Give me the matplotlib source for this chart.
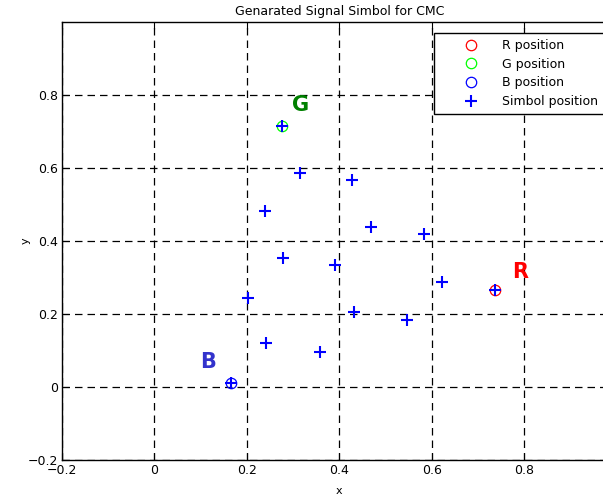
import numpy as np
from matplotlib import pyplot as plt

# reference colour positions
ref_names = ['R', 'G', 'B']
ref_x = [0.737, 0.275, 0.166]
ref_y = [0.265, 0.716, 0.010]

# generated symbol positions
sym_x = [0.737, 0.275, 0.166, 0.314, 0.427, 0.239, 0.468, 0.582, 0.277,
         0.391, 0.203, 0.432, 0.546, 0.241, 0.358, 0.622]
sym_y = [0.265, 0.716, 0.010, 0.587, 0.567, 0.483, 0.438, 0.418, 0.354,
         0.333, 0.244, 0.205, 0.183, 0.120, 0.095, 0.289]

ticks = [-0.2, 0, 0.2, 0.4, 0.6, 0.8]
tick_labels = ['\u22120.2', '0', '0.2', '0.4', '0.6', '0.8']

circle_colors = ['#ff0000', '#00ff00', '#0000ff']
text_colors = ['#ff0000', '#008000', '#3333cc']
text_pos = [(0.791, 0.316), (0.316, 0.772), (0.117, 0.069)]

plt.rcParams['font.family'] = ['DejaVu Sans']

fig = plt.figure(figsize=(6.03, 4.97), dpi=100)
ax = fig.add_axes([0.1028, 0.0744, 0.920, 0.8813])

for i, name in enumerate(ref_names):
    ax.plot(ref_x[i], ref_y[i], 'o', ms=7.5, mfc='none', mec=circle_colors[i],
            mew=0.9, label=name + ' position')
ax.plot(sym_x, sym_y, '+', color='#0000ff', ms=8, mew=1.5, linestyle='none',
        label='Simbol position')

for i, name in enumerate(ref_names):
    ax.text(text_pos[i][0], text_pos[i][1], name, color=text_colors[i],
            fontsize=15, fontweight='bold', ha='center', va='center')

ax.set_xlim(-0.2, 1.0)
ax.set_ylim(-0.2, 1.0)
ax.set_xticks(ticks)
ax.set_xticklabels(tick_labels)
ax.set_yticks(ticks)
ax.set_yticklabels(tick_labels)
ax.tick_params(direction='in', length=5, width=0.8, labelsize=9,
               top=True, right=True, pad=3)
ax.grid(True, color='black', linestyle=(0, (6, 4)), linewidth=0.9)
for sp in ax.spines.values():
    sp.set_linewidth(1.0)

ax.set_title('Genarated Signal Simbol for CMC', fontsize=9, pad=5)
ax.set_xlabel('x', fontsize=8, labelpad=6)
ax.set_ylabel('y', fontsize=8, labelpad=-2)

leg = ax.legend(loc='upper left', bbox_to_anchor=(0.670, 0.975),
                borderaxespad=0, fontsize=9, fancybox=False, framealpha=1,
                edgecolor='black', labelspacing=0.45, handletextpad=0.05,
                borderpad=0.5, handlelength=4.9)
leg.get_frame().set_linewidth(1.0)

fig.savefig('out.png', dpi=100)
